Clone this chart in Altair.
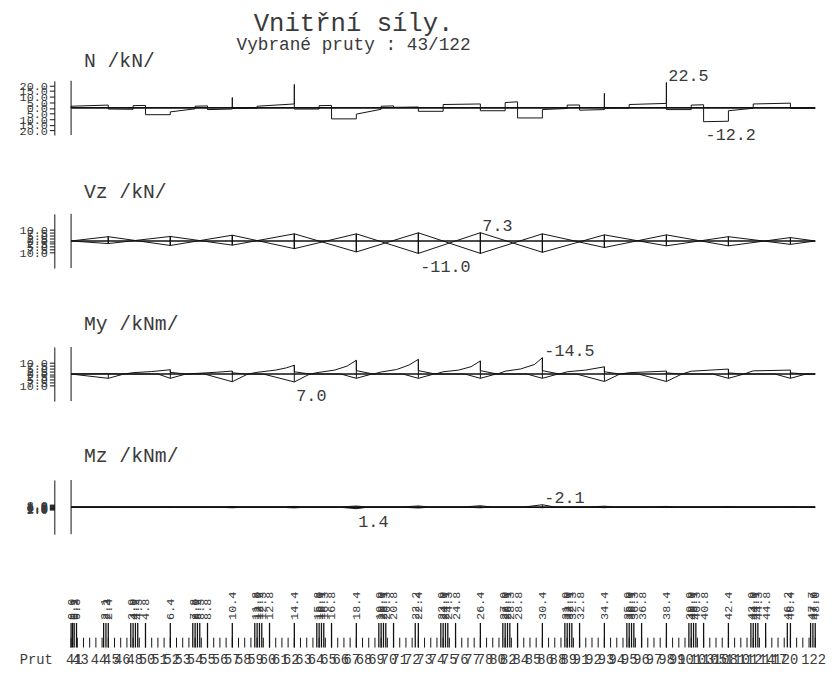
import altair as alt
import pandas as pd

FONT = "Liberation Mono"
TXT = "#3a3a3a"
INK = "#111111"

PLOT_W = 755
PANEL_H = 55
BOTTOM_H = 55
X_DOMAIN = [0.0, 48.0]
Y_DOMAIN = [-24.0, 24.0]

# ---------------- N /kN/ ----------------
n_station = [0.0, 0.0, 2.4, 2.4, 4.0, 4.0, 4.8, 4.8, 6.4, 6.4, 8.0, 8.0, 8.8, 8.8, 10.4, 10.4, 10.4,
             12.0, 12.0, 14.4, 14.4, 14.4, 16.0, 16.0, 16.8, 16.8, 18.4, 18.4, 20.0, 20.0, 20.8, 20.8,
             22.4, 22.4, 24.0, 24.0, 26.4, 26.4, 28.0, 28.0, 28.8, 28.8, 30.4, 30.4, 32.0, 32.0, 32.8, 32.8,
             34.4, 34.4, 34.4, 36.0, 36.0, 38.4, 38.4, 38.4, 40.0, 40.0, 40.8, 40.8, 42.4, 42.4,
             44.0, 44.0, 46.4, 46.4, 48.0, 48.0]
n_value = [0.0, 1.5, 2.5, -1.0, -1.2, 2.0, 2.2, -6.0, -6.0, -3.5, -0.8, 1.5, 1.8, -1.5, -1.0, 9.2, -0.5,
           -0.3, 1.5, 3.5, 20.8, -1.0, -1.0, 2.0, 2.2, -9.7, -9.7, -5.5, -1.2, 1.5, 1.8, 0.5,
           0.8, -3.0, -3.0, 3.0, 3.5, -2.5, -2.5, 4.8, 5.4, -8.9, -8.9, -1.5, -0.5, 2.5, 2.6, -2.0,
           -1.5, 12.9, -0.3, -0.2, 3.0, 4.0, 22.5, -1.5, -1.5, 2.5, 2.8, -12.2, -11.8, -2.5,
           -0.3, 3.5, 4.2, -0.5, -0.3, 0.0]
n_ticks = [-20, -15, -10, -5, 0, 5, 10, 15, 20]
n_lab_text = ["22.5", "-12.2"]
n_lab_s = [38.4, 40.8]
n_lab_v = [22.5, -12.2]
n_lab_pos = ["above", "below"]

# ---------------- Vz /kN/ ----------------
vz_node = [0.0, 2.4, 6.4, 10.4, 14.4, 18.4, 22.4, 26.4, 30.4, 34.4, 38.4, 42.4, 46.4, 48.0]
vz_hi = [0.0, 3.8, 4.0, 5.1, 6.3, 6.3, 7.2, 7.3, 6.3, 5.4, 5.4, 3.8, 3.0, 0.0]
vz_lo = [0.0, -2.3, -4.0, -3.7, -6.8, -9.7, -11.0, -11.0, -10.0, -5.8, -4.3, -4.3, -3.0, 0.0]
vz_ticks = [-10, -7.5, -5, -2.5, 0, 2.5, 5, 7.5, 10]
vz_lab_text = ["7.3", "-11.0"]
vz_lab_s = [26.4, 22.4]
vz_lab_v = [7.3, -11.0]
vz_lab_pos = ["above", "below"]

# ---------------- My /kNm/ (negative drawn upwards) ----------------
my_up_s = [0.0, 2.4, 3.4, 4.0, 5.2, 6.4, 6.4, 7.4, 8.4, 9.4, 10.4, 10.4, 11.4, 12.0, 13.2, 13.9, 14.4,
           14.4, 15.4, 16.0, 17.0, 17.8, 18.4, 18.4, 19.5, 20.0, 21.0, 21.8, 22.4, 22.4, 23.5, 24.0,
           25.0, 25.8, 26.4, 26.4, 27.5, 28.0, 29.0, 29.9, 30.4, 30.4, 31.5, 32.0, 33.2, 34.4, 34.4,
           35.4, 36.0, 38.4, 38.4, 39.4, 40.0, 42.4, 42.4, 43.4, 44.0, 46.4, 46.4, 47.4, 48.0]
my_up_v = [0.0, -0.4, 0.0, -1.2, -2.2, -3.8, -1.5, 0.0, -0.8, -1.6, -2.6, -1.0, 0.0, -1.5, -3.5, -5.5, -7.8,
           -2.0, 0.0, -1.5, -3.5, -7.0, -12.2, -3.0, 0.0, -1.8, -4.0, -8.0, -13.0, -3.0, 0.0, -2.0,
           -3.5, -6.5, -11.6, -3.0, 0.0, -2.5, -4.5, -8.5, -14.5, -3.0, 0.0, -2.0, -3.5, -6.4, -2.0,
           0.0, -1.2, -2.6, -1.0, 0.0, -2.5, -4.4, -1.0, 0.0, -2.8, -3.5, -1.0, 0.0, 0.0]
my_low_s = [0.0, 2.4, 3.4, 5.6, 6.4, 7.4, 8.6, 10.4, 11.4, 12.4, 14.4, 15.4, 17.4, 18.4, 19.4, 21.4, 22.4,
            23.4, 25.4, 26.4, 27.4, 29.4, 30.4, 31.4, 32.6, 34.4, 35.4, 36.6, 38.4, 39.4, 41.4, 42.4,
            43.4, 45.4, 46.4, 47.4, 48.0]
my_low_v = [0.0, 3.8, 0.0, 0.0, 3.8, 0.0, 0.0, 6.8, 0.0, 0.0, 7.0, 0.0, 0.0, 3.8, 0.0, 0.0, 3.8,
            0.0, 0.0, 3.8, 0.0, 0.0, 3.8, 0.0, 0.0, 6.6, 0.0, 0.0, 6.6, 0.0, 0.0, 3.8,
            0.0, 0.0, 3.8, 0.0, 0.0]
my_node = [2.4, 6.4, 10.4, 14.4, 18.4, 22.4, 26.4, 30.4, 34.4, 38.4, 42.4, 46.4]
my_top = [-0.4, -3.8, -2.6, -7.8, -12.2, -13.0, -11.6, -14.5, -6.4, -2.6, -4.4, -3.5]
my_bot = [3.8, 3.8, 6.8, 7.0, 3.8, 3.8, 3.8, 3.8, 6.6, 6.6, 3.8, 3.8]
my_ticks = [-10, -7.5, -5, -2.5, 0, 2.5, 5, 7.5, 10]
my_lab_text = ["-14.5", "7.0"]
my_lab_s = [30.4, 14.4]
my_lab_v = [-14.5, 7.0]
my_lab_pos = ["above", "below"]

# ---------------- Mz /kNm/ (negative drawn upwards) ----------------
mz_s = [0.0, 1.2, 2.4, 3.2, 5.2, 6.4, 7.2, 9.2, 10.4, 11.2, 13.2, 14.4, 15.2, 17.2, 18.4, 19.2,
        21.2, 22.4, 23.2, 25.2, 26.4, 27.2, 29.2, 30.4, 31.2, 33.2, 34.4, 35.2, 37.2, 38.4, 39.2,
        41.2, 42.4, 43.2, 45.2, 46.4, 47.2, 48.0]
mz_up_v = [0, 0, -0.3, 0, 0, -0.4, 0, 0, -0.5, 0, 0, -0.6, 0, 0, -0.9, 0, 0, -1.0, 0, 0, -1.2, 0,
           0, -2.1, 0, 0, -0.8, 0, 0, -0.6, 0, 0, -0.5, 0, 0, -0.4, 0, 0]
mz_low_v = [0, 0, 0.3, 0, 0, 0.4, 0, 0, 0.6, 0, 0, 0.7, 0, 0, 1.4, 0, 0, 0.8, 0, 0, 0.6, 0,
            0, 0.5, 0, 0, 0.5, 0, 0, 0.4, 0, 0, 0.3, 0, 0, 0.3, 0, 0]
mz_node = [2.4, 6.4, 10.4, 14.4, 18.4, 22.4, 26.4, 30.4, 34.4, 38.4, 42.4, 46.4]
mz_top = [-0.3, -0.4, -0.5, -0.6, -0.9, -1.0, -1.2, -2.1, -0.8, -0.6, -0.5, -0.4]
mz_bot = [0.3, 0.4, 0.6, 0.7, 1.4, 0.8, 0.6, 0.5, 0.5, 0.4, 0.3, 0.3]
mz_ticks = [-2, -1.5, -1, -0.5, 0, 0.5, 1, 1.5, 2]
mz_lab_text = ["-2.1", "1.4"]
mz_lab_s = [30.4, 18.4]
mz_lab_v = [-2.1, 1.4]
mz_lab_pos = ["above", "below"]

# ---------------- bottom: stations and members ----------------
node_ticks = [0.0, 0.1, 0.2, 0.35, 2.1, 2.25, 2.4, 3.85, 4.0, 4.15, 4.3, 4.8, 6.4, 7.85, 8.0, 8.15, 8.3,
              8.8, 10.4, 11.85, 12.0, 12.15, 12.3, 12.8, 14.4, 15.85, 16.0, 16.15, 16.3, 16.8, 18.4,
              19.85, 20.0, 20.15, 20.3, 20.8, 22.2, 22.4, 23.85, 24.0, 24.15, 24.3, 24.8, 26.4, 27.85,
              28.0, 28.15, 28.3, 28.8, 30.4, 31.85, 32.0, 32.15, 32.3, 32.8, 34.4, 35.85, 36.0, 36.15,
              36.3, 36.8, 38.4, 39.85, 40.0, 40.15, 40.3, 40.8, 42.4, 43.85, 44.0, 44.15, 44.3, 44.8,
              46.2, 46.4, 47.7, 47.85, 48.0]
minor_ticks = [round(0.4 * i, 1) for i in range(121)]
prut_x = [0.2, 0.6, 1.8, 2.6, 3.3, 4.1, 4.9, 5.7, 6.5, 7.2, 8.0, 8.8, 9.6, 10.4, 11.1, 11.9, 12.7,
          13.5, 14.2, 15.0, 15.8, 16.6, 17.4, 18.1, 18.9, 19.7, 20.5, 21.2, 22.0, 22.8, 23.6, 24.4,
          25.1, 25.9, 26.7, 27.5, 28.2, 29.0, 29.8, 30.6, 31.4, 32.1, 32.9, 33.7, 34.5, 35.2, 36.0,
          36.8, 37.6, 38.4, 39.1, 39.9, 40.7, 41.5, 42.2, 43.0, 43.8, 44.6, 45.4, 46.1, 47.9]
prut_id = [41, 43, 44, 45, 46, 48, 50, 51, 52, 53, 54, 55, 56, 57, 58, 59, 60, 61, 62, 63, 64, 65,
           66, 67, 68, 69, 70, 71, 72, 73, 74, 75, 76, 77, 78, 80, 82, 84, 85, 86, 88, 89, 91, 92,
           93, 94, 95, 96, 97, 98, 99, 101, 103, 105, 108, 110, 112, 114, 117, 120, 122]
PRUT_ROW = -0.5
BOTTOM_DOMAIN = [-0.8, 1.4]

# ---------------- helpers ----------------
xs = alt.Scale(domain=X_DOMAIN, nice=False, zero=False)


def seq_df(stations, values, series):
    return pd.DataFrame({"s": stations, "v": values, "series": series, "i": list(range(len(stations)))})


def y_axis(ticks):
    return alt.Axis(values=ticks, labelExpr="format(abs(datum.value), '.1f')", offset=17, tickSize=5,
                    labelPadding=2, domainColor=INK, tickColor=INK, labelFont=FONT, labelFontSize=12,
                    labelColor=TXT, labelOverlap=False, labelBound=False, labelFlush=False, grid=False,
                    title=None, domainWidth=1, tickWidth=1)


def force_panel(title, title_offset, lines_df, verts_df, lab_df, ticks, reverse):
    ys = alt.Scale(domain=Y_DOMAIN, nice=False, zero=False, reverse=reverse)
    yax = y_axis(ticks)
    frame = pd.DataFrame({"x0": [X_DOMAIN[0]], "x1": [X_DOMAIN[1]],
                          "y0": [Y_DOMAIN[0]], "y1": [Y_DOMAIN[1]], "zero": [0.0]})
    left = alt.Chart(frame).mark_rule(color=INK, strokeWidth=1).encode(
        x=alt.X("x0:Q", scale=xs, axis=None),
        y=alt.Y("y0:Q", scale=ys, axis=yax), y2="y1:Q")
    base = alt.Chart(frame).mark_rule(color=INK, strokeWidth=1.6).encode(
        x=alt.X("x0:Q", scale=xs, axis=None), x2="x1:Q",
        y=alt.Y("zero:Q", scale=ys, axis=yax))
    lines = alt.Chart(lines_df).mark_line(color=INK, strokeWidth=1).encode(
        x=alt.X("s:Q", scale=xs, axis=None),
        y=alt.Y("v:Q", scale=ys, axis=yax),
        detail="series:N", order="i:Q")
    layers = [left, base, lines]
    if verts_df is not None:
        layers.append(alt.Chart(verts_df).mark_rule(color=INK, strokeWidth=1).encode(
            x=alt.X("s:Q", scale=xs, axis=None),
            y=alt.Y("top:Q", scale=ys, axis=yax), y2="bot:Q"))
    above = lab_df[lab_df["pos"] == "above"]
    below = lab_df[lab_df["pos"] == "below"]
    txt = dict(font=FONT, fontSize=17, color=TXT, align="left")
    layers.append(alt.Chart(above).mark_text(baseline="alphabetic", dx=2, dy=-2, **txt).encode(
        x=alt.X("s:Q", scale=xs, axis=None), y=alt.Y("v:Q", scale=ys, axis=yax), text="t:N"))
    layers.append(alt.Chart(below).mark_text(baseline="top", dx=2, dy=6, **txt).encode(
        x=alt.X("s:Q", scale=xs, axis=None), y=alt.Y("v:Q", scale=ys, axis=yax), text="t:N"))
    return alt.layer(*layers).properties(
        width=PLOT_W, height=PANEL_H,
        title=alt.TitleParams(text=title, anchor="start", frame="group", dx=13, offset=title_offset,
                              baseline="alphabetic", font=FONT, fontSize=20, fontWeight="normal",
                              color=TXT))


def lab_df(texts, s, v, pos):
    return pd.DataFrame({"t": texts, "s": s, "v": v, "pos": pos})


# N
n_lines = seq_df(n_station, n_value, "N")
pN = force_panel("N /kN/", -20, n_lines, None, lab_df(n_lab_text, n_lab_s, n_lab_v, n_lab_pos),
                 n_ticks, False)

# Vz: rising and falling envelope lines
rise_s, rise_v, fall_s, fall_v = [], [], [], []
for k in range(len(vz_node) - 1):
    rise_s += [vz_node[k], vz_node[k + 1]]
    rise_v += [vz_lo[k], vz_hi[k + 1]]
    fall_s += [vz_node[k], vz_node[k + 1]]
    fall_v += [vz_hi[k], vz_lo[k + 1]]
vz_lines = pd.concat([seq_df(rise_s, rise_v, "rise"), seq_df(fall_s, fall_v, "fall")])
vz_verts = pd.DataFrame({"s": vz_node, "top": vz_hi, "bot": vz_lo})
pVz = force_panel("Vz /kN/", -4, vz_lines, vz_verts,
                  lab_df(vz_lab_text, vz_lab_s, vz_lab_v, vz_lab_pos), vz_ticks, False)

# My
my_lines = pd.concat([seq_df(my_up_s, my_up_v, "up"), seq_df(my_low_s, my_low_v, "low")])
my_verts = pd.DataFrame({"s": my_node, "top": my_top, "bot": my_bot})
pMy = force_panel("My /kNm/", -8, my_lines, my_verts,
                  lab_df(my_lab_text, my_lab_s, my_lab_v, my_lab_pos), my_ticks, True)

# Mz
mz_lines = pd.concat([seq_df(mz_s, mz_up_v, "up"), seq_df(mz_s, mz_low_v, "low")])
mz_verts = pd.DataFrame({"s": mz_node, "top": mz_top, "bot": mz_bot})
pMz = force_panel("Mz /kNm/", -2, mz_lines, mz_verts,
                  lab_df(mz_lab_text, mz_lab_s, mz_lab_v, mz_lab_pos), mz_ticks, True)

# bottom station / member strip
bs = alt.Scale(domain=BOTTOM_DOMAIN, nice=False, zero=False)
prut_axis = alt.Axis(values=[PRUT_ROW], labelExpr="'Prut'", tickSize=0, domain=False, grid=False,
                     labelPadding=19, labelFont=FONT, labelFontSize=14, labelColor=TXT, title=None,
                     labelOverlap=False, labelBound=False, labelFlush=False)
tall_df = pd.DataFrame({"s": node_ticks, "y0": 0.0, "y1": 1.0})
minor_df = pd.DataFrame({"s": minor_ticks, "y0": 0.0, "y1": 0.4})
prut_df = pd.DataFrame({"s": prut_x, "id": [str(p) for p in prut_id], "row": PRUT_ROW})

tall = alt.Chart(tall_df).mark_rule(color=INK, strokeWidth=1.3).encode(
    x=alt.X("s:Q", scale=xs, axis=None), y=alt.Y("y0:Q", scale=bs, axis=prut_axis), y2="y1:Q")
minor = alt.Chart(minor_df).mark_rule(color=INK, strokeWidth=1).encode(
    x=alt.X("s:Q", scale=xs, axis=None), y=alt.Y("y0:Q", scale=bs, axis=prut_axis), y2="y1:Q")
stlab = alt.Chart(tall_df).mark_text(angle=270, align="left", baseline="middle", dx=3, font=FONT,
                                     fontSize=12, color=TXT).encode(
    x=alt.X("s:Q", scale=xs, axis=None), y=alt.Y("y1:Q", scale=bs, axis=prut_axis),
    text=alt.Text("s:Q", format=".1f"))
prut = alt.Chart(prut_df).mark_text(align="center", baseline="middle", font=FONT, fontSize=14,
                                    color=TXT).encode(
    x=alt.X("s:Q", scale=xs, axis=None), y=alt.Y("row:Q", scale=bs, axis=prut_axis), text="id:N")
pBot = alt.layer(minor, tall, stlab, prut).properties(width=PLOT_W, height=BOTTOM_H)

chart = alt.vconcat(pN, pVz, pMy, pMz, pBot, spacing=80, bounds="flush").properties(
    title=alt.TitleParams(text="Vnitřní síly.", subtitle="Vybrané pruty :  43/122", anchor="middle",
                          dx=-70, offset=-3, font=FONT, fontSize=26, fontWeight="normal", color=TXT,
                          subtitleFont=FONT, subtitleFontSize=18, subtitleColor=TXT, subtitlePadding=0),
    padding={"left": 11, "top": -3, "right": 4, "bottom": 4},
).configure_view(stroke=None)

chart.save("out.html", embed_options={"renderer": "svg", "actions": False})
